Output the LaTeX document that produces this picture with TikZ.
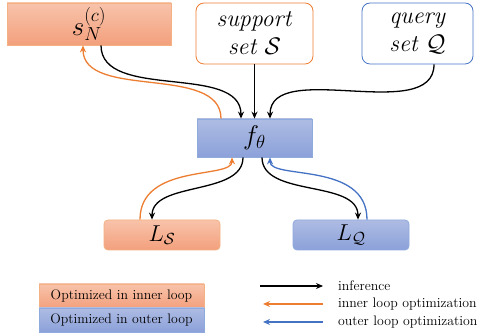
\RequirePackage{fix-cm}
\documentclass[tikz,border=0pt]{standalone}
\usetikzlibrary{arrows.meta}

\definecolor{lineorange}{HTML}{ED7D31}
\definecolor{lineblue}{HTML}{4472C4}
\definecolor{innertop}{HTML}{F8C3AB}
\definecolor{innerbot}{HTML}{F3A07C}
\definecolor{innerrim}{HTML}{F4B183}
\definecolor{outertop}{HTML}{AEBCE3}
\definecolor{outerbot}{HTML}{8CA1DA}
\definecolor{outerrim}{HTML}{8FAADC}

\begin{document}
\begin{tikzpicture}[x=1pt, y=1pt,
  innerbox/.style={draw=innerrim, thick, top color=innertop, bottom color=innerbot, inner sep=0pt},
  outerbox/.style={draw=outerrim, thick, top color=outertop, bottom color=outerbot, inner sep=0pt},
  setbox/.style={draw, thick, fill=white, rounded corners=8pt, inner sep=0pt, align=center},
  infer/.style={-{Stealth[length=7pt, width=6pt]}, line width=1.3pt, black},
  innerarr/.style={infer, lineorange},
  outerarr/.style={infer, lineblue},
  keytext/.style={anchor=west, inner sep=0pt, font=\fontsize{13.8}{15}\selectfont}]

\useasboundingbox (0,0) rectangle (481,336);

% top row
\node[innerbox, minimum width=164pt, minimum height=42pt, font=\fontsize{27}{30}\selectfont] (sN) at (89,312) {$s_N^{(c)}$};
\node[setbox, draw=lineorange, minimum width=117pt, minimum height=61pt, font=\fontsize{24}{28}\selectfont] (sup) at (254.5,302.5) {\textit{support}\\\textit{set} $\mathcal{S}$};
\node[setbox, draw=lineblue, minimum width=111pt, minimum height=61pt, font=\fontsize{24}{28}\selectfont] (qry) at (417.5,302.5) {\textit{query}\\\textit{set} $\mathcal{Q}$};

% model
\node[outerbox, minimum width=115pt, minimum height=38pt, font=\fontsize{27}{30}\selectfont] (f) at (254.5,198) {$f_\theta$};

% losses
\node[innerbox, rounded corners=4pt, minimum width=116pt, minimum height=30pt, font=\fontsize{23}{26}\selectfont] (LS) at (162,101) {$L_{\mathcal{S}}$};
\node[outerbox, rounded corners=4pt, minimum width=116pt, minimum height=30pt, font=\fontsize{23}{26}\selectfont] (LQ) at (351,101) {$L_{\mathcal{Q}}$};

% arrows into f
\draw[infer] ([xshift=12pt]sN.south) to[out=-90, in=90, looseness=0.9] ([xshift=-13.5pt]f.north);
\draw[innerarr] ([xshift=-33.5pt]f.north) to[out=90, in=-90, looseness=0.9] ([xshift=-6pt]sN.south);
\draw[infer] (sup.south) -- (f.north);
\draw[infer] ([xshift=16.5pt]qry.south) to[out=-90, in=90, looseness=0.9] ([xshift=15.5pt]f.north);

% arrows out of f
\draw[infer] ([xshift=-11.5pt]f.south) to[out=-90, in=90, looseness=0.9] ([xshift=-10pt]LS.north);
\draw[innerarr] ([xshift=-22pt]LS.north) to[out=90, in=-90, out looseness=1.3, in looseness=0.5] ([xshift=-22.5pt]f.south);
\draw[infer] ([xshift=7.5pt]f.south) to[out=-90, in=90, looseness=0.9] ([xshift=7pt]LQ.north);
\draw[outerarr] ([xshift=16pt]LQ.north) to[out=90, in=-90, out looseness=1.3, in looseness=0.5] ([xshift=15.5pt]f.south);

% legend boxes
\node[innerbox, minimum width=165pt, minimum height=24pt, font=\fontsize{13.8}{15}\selectfont] (kin) at (121.5,40) {Optimized in inner loop};
\node[outerbox, minimum width=165pt, minimum height=24pt, font=\fontsize{13.8}{15}\selectfont] (kout) at (121.5,16) {Optimized in outer loop};

% legend arrows
\coordinate (ka) at (260,50);
\coordinate (kb) at (323,50);
\coordinate (kc) at (323,32);
\coordinate (kd) at (263,32);
\coordinate (ke) at (323,14);
\coordinate (kf) at (263,14);
\draw[infer] (ka) -- (kb);
\draw[innerarr] (kc) -- (kd);
\draw[outerarr] (ke) -- (kf);
\node[keytext] (t1) at (338,50) {inference};
\node[keytext] (t2) at (338,32) {inner loop optimization};
\node[keytext] (t3) at (338,14) {outer loop optimization};

\end{tikzpicture}
\end{document}
